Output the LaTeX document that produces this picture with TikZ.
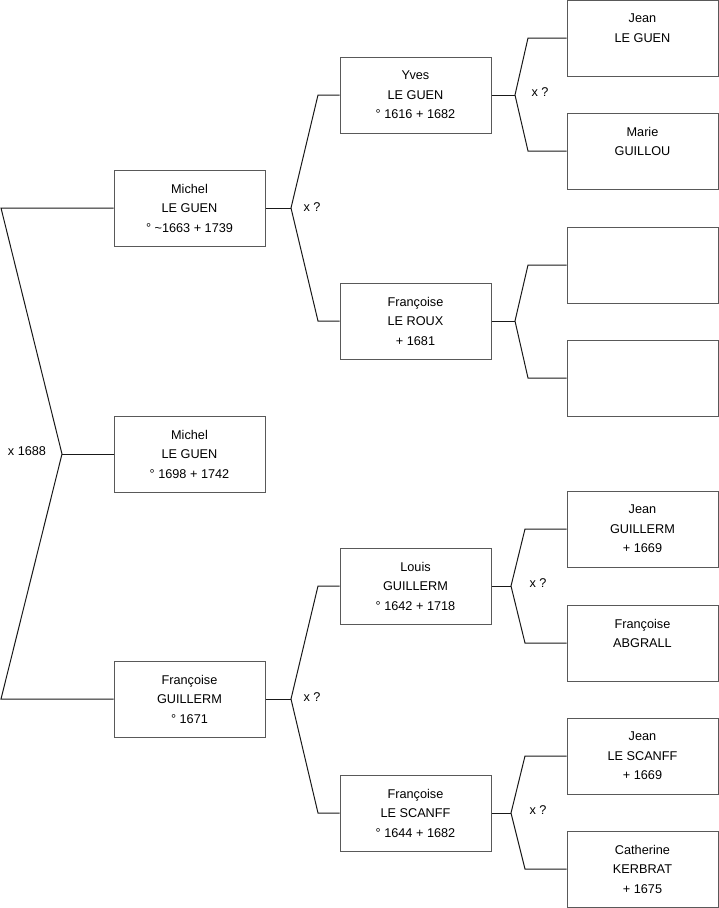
\documentclass[tikz,border=0pt]{standalone}
\usepackage{fontspec}
\setmainfont{Liberation Sans}
\usepackage{tikz}
\usetikzlibrary{positioning}

\begin{document}
\begin{tikzpicture}[
  x=1pt, y=-1pt,
  person/.style={draw=black!65, line width=1pt, minimum width=151pt, minimum height=76pt, inner sep=0pt, align=center, font=\fontsize{12.7}{19.5}\selectfont},
  link/.style={line width=1pt, black!90},
  wedlock/.style={font=\fontsize{12.7}{14}\selectfont}
]
\useasboundingbox (0,0) rectangle (719,908);

% generation 1
\node[person] (p0) at (189.5,454) {Michel\\LE GUEN\\° 1698 + 1742};
% generation 2
\node[person] (p1) at (189.5,208) {Michel\\LE GUEN\\° \textasciitilde1663 + 1739};
\node[person] (p2) at (189.5,699) {Françoise\\GUILLERM\\° 1671};
% generation 3
\node[person] (p11) at (415.5,95) {Yves\\LE GUEN\\° 1616 + 1682};
\node[person] (p12) at (415.5,321) {Françoise\\LE ROUX\\+ 1681};
\node[person] (p21) at (415.5,586) {Louis\\GUILLERM\\° 1642 + 1718};
\node[person] (p22) at (415.5,813) {Françoise\\LE SCANFF\\° 1644 + 1682};
% generation 4
\node[person] (p111) at (642.5,38) {Jean\\LE GUEN\\\mbox{}};
\node[person] (p112) at (642.5,151) {Marie\\GUILLOU\\\mbox{}};
\node[person] (p121) at (642.5,265) {};
\node[person] (p122) at (642.5,378) {};
\node[person] (p211) at (642.5,529) {Jean\\GUILLERM\\+ 1669};
\node[person] (p212) at (642.5,643) {Françoise\\ABGRALL\\\mbox{}};
\node[person] (p221) at (642.5,756) {Jean\\LE SCANFF\\+ 1669};
\node[person] (p222) at (642.5,869) {Catherine\\KERBRAT\\+ 1675};

% forks
\coordinate (j0) at (62,454);
\coordinate (a1) at (1,208);
\coordinate (a2) at (1,699);
\draw[link] (p0.west) -- (j0);
\draw[link] (p1.west) -- (a1) -- (j0) -- (a2) -- (p2.west);

\coordinate (j1) at (291,208);
\draw[link] (p1.east) -- (j1);
\draw[link] (p11.west) -- (318,95) -- (j1) -- (318,321) -- (p12.west);

\coordinate (j2) at (291,699);
\draw[link] (p2.east) -- (j2);
\draw[link] (p21.west) -- (318,586) -- (j2) -- (318,813) -- (p22.west);

\coordinate (j11) at (515,95);
\draw[link] (p11.east) -- (j11);
\draw[link] (p111.west) -- (528,38) -- (j11) -- (528,151) -- (p112.west);

\coordinate (j12) at (515,321);
\draw[link] (p12.east) -- (j12);
\draw[link] (p121.west) -- (528,265) -- (j12) -- (528,378) -- (p122.west);

\coordinate (j21) at (511,586);
\draw[link] (p21.east) -- (j21);
\draw[link] (p211.west) -- (525,529) -- (j21) -- (525,643) -- (p212.west);

\coordinate (j22) at (511,813);
\draw[link] (p22.east) -- (j22);
\draw[link] (p221.west) -- (525,756) -- (j22) -- (525,869) -- (p222.west);

% marriages
\node[wedlock] (m0) at (27,451) {x 1688};
\node[wedlock] (m1) at (312,207) {x ?};
\node[wedlock] (m2) at (312,697) {x ?};
\node[wedlock] (m11) at (540,92) {x ?};
\node[wedlock] (m21) at (538,583) {x ?};
\node[wedlock] (m22) at (538,810) {x ?};

\end{tikzpicture}
\end{document}
